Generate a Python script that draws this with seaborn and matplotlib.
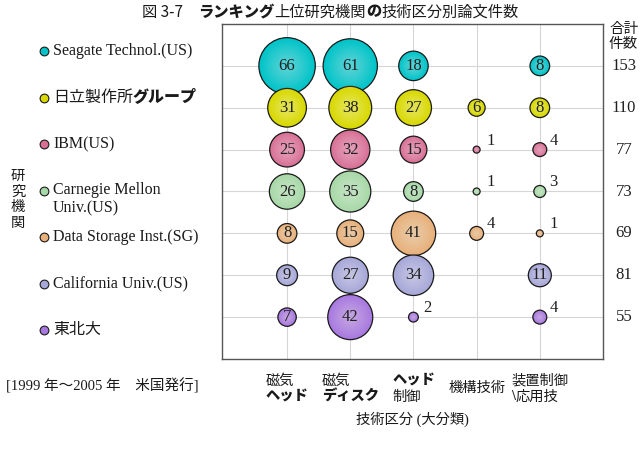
import matplotlib
matplotlib.use("Agg")
import matplotlib.pyplot as plt
from matplotlib.lines import Line2D
from matplotlib.transforms import IdentityTransform
import seaborn as sns
import numpy as np
import pandas as pd

# Data
institutions = ["Seagate Technol.(US)", "日立製作所*グループ*", "IBM(US)",
                "Carnegie Mellon\nUniv.(US)", "Data Storage Inst.(SG)",
                "California Univ.(US)", "東北大"]
categories = ["磁気\n*ヘッド*", "磁気\n*ディスク*", "*ヘッド*\n制御", "機構技術", "装置制御\n*\\*応用技"]
seagate = [66, 61, 18, 0, 8]
hitachi = [31, 38, 27, 6, 8]
ibm = [25, 32, 15, 1, 4]
cmu = [26, 35, 8, 1, 3]
dsi = [8, 15, 41, 4, 1]
calif = [9, 27, 34, 0, 11]
tohoku = [7, 42, 2, 0, 4]
totals = [153, 110, 77, 73, 69, 81, 55]
colors = ["#00c4c8", "#d8d800", "#d87096", "#a8d8a8", "#e8b07a", "#a8a8d8", "#a878e0"]

title = "図 3-7　*ランキング*上位研究機関*の*技術区分別論文件数"
note = "[1999 年～2005 年　米国発行]"

W, H = 640, 459
sns.set_style("white")
plt.rcParams["font.family"] = ["Liberation Serif", "Noto Sans CJK JP", "DejaVu Sans"]
JP = ["Noto Sans CJK JP", "DejaVu Sans"]

rows = [seagate, hitachi, ibm, cmu, dsi, calif, tohoku]
recs = []
for i, vals in enumerate(rows):
    for j, v in enumerate(vals):
        if v > 0:
            recs.append({"inst": i, "cat": j, "n": v})
df = pd.DataFrame(recs)

fig = plt.figure(figsize=(6.4, 4.59), dpi=100)
ax = fig.add_axes([222 / W, 1 - 359 / H, (603 - 222) / W, (359 - 24) / H])

k = 25.0  # points^2 per paper
vmax = df["n"].max()
sns.scatterplot(data=df, x="cat", y="inst", size="n", sizes=(0, k * vmax), size_norm=(0, vmax),
                hue="inst", palette=colors, edgecolor="#1a1a1a", linewidth=0.9,
                alpha=1, legend=False, ax=ax, zorder=3)
# soft highlight to fake the 3D look
for frac in np.linspace(0.92, 0.12, 14):
    ax.scatter(df["cat"], df["inst"], s=k * df["n"] * frac ** 2, c="white",
               alpha=0.032, linewidths=0, zorder=4)

for _, r in df.iterrows():
    if r["n"] >= 5:
        ax.text(r["cat"], r["inst"], str(r["n"]), ha="center", va="center",
                fontsize=12, color="#202020", zorder=5)
    else:
        ax.annotate(str(r["n"]), (r["cat"], r["inst"]), xytext=(7, 6.5),
                    textcoords="offset points", ha="left", va="center",
                    fontsize=12, color="#202020", zorder=5)

for i, t in enumerate(totals):
    ax.text(1.055, i, str(t), transform=ax.get_yaxis_transform(), ha="center",
            va="center", fontsize=12, color="#202020")

ax.set_xlim(-1.03, 5.0)
ax.set_ylim(7, -1)
ax.set_xticks(range(len(categories)))
ax.set_yticks(range(len(institutions)))
ax.set_xticklabels([])
ax.set_yticklabels([])
ax.tick_params(length=0)
ax.set_xlabel("")
ax.set_ylabel("")
ax.grid(True, color="#d6d6d6", lw=0.8)
ax.set_axisbelow(True)
for s in ax.spines.values():
    s.set_color("#555555")
    s.set_linewidth(1.0)

renderer = fig.canvas.get_renderer()


def make_line(s, size, family=None):
    parts = s.split("*")
    texts = []
    for n, p in enumerate(parts):
        if not p:
            continue
        kw = {"family": family} if family else {}
        t = fig.text(0, 0, p, transform=IdentityTransform(), fontsize=size,
                     fontweight="heavy" if n % 2 else "normal", va="center",
                     ha="left", color="#1a1a1a", **kw)
        texts.append(t)
    widths = [t.get_window_extent(renderer).width for t in texts]
    return texts, widths


def place(texts, widths, x, y):
    for t, w in zip(texts, widths):
        t.set_position((x, H - y))
        x += w


# title
tt, tw = make_line(title, 11, JP)
place(tt, tw, 142, 12)

# category labels under the axis
for j, lab in enumerate(categories):
    cx = ax.transData.transform((j, 0))[0]
    lines = [make_line(l, 10.3) for l in lab.split("\n")]
    block = max(sum(w) for _, w in lines)
    ys = [388] if len(lines) == 1 else [381, 397]
    for (tx, w), y in zip(lines, ys):
        place(tx, w, cx - block / 2, y)

fig.text((222 + 603) / 2, H - 419, "技術区分 (大分類)", transform=IdentityTransform(),
         ha="center", va="center", fontsize=10.3, color="#1a1a1a")

# legend of institutions
for i, lab in enumerate(institutions):
    y = 51 + i * 46.5
    fig.add_artist(Line2D([44], [H - y], marker="o", markersize=6.3, color=colors[i],
                          markeredgecolor="#1a1a1a", markeredgewidth=0.8,
                          transform=IdentityTransform()))
    for m, l in enumerate(lab.split("\n")):
        tx, w = make_line(l, 11.5)
        place(tx, w, 53, y + m * 18)

fig.text(18, H - 200, "研\n究\n機\n関", transform=IdentityTransform(), ha="center",
         va="center", fontsize=10.3, linespacing=1.25, color="#1a1a1a")
fig.text(609, H - 37, "合計\n件数", transform=IdentityTransform(), ha="left",
         va="center", fontsize=10.5, linespacing=1.15, color="#1a1a1a")

nt, nw = make_line(note, 10.5)
place(nt, nw, 6, 386)

fig.savefig("out.png", dpi=100)
